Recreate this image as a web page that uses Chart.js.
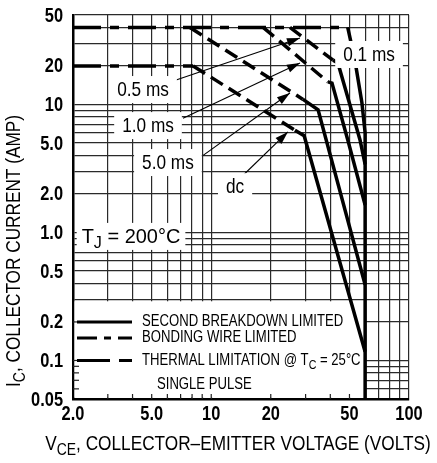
<!DOCTYPE html>
<html>
<head>
<meta charset="utf-8">
<script src="https://cdn.jsdelivr.net/npm/chart.js@4/dist/chart.umd.min.js"></script>
<style>
  html, body { margin: 0; padding: 0; background: #fff; }
  #wrap { width: 437px; height: 463px; }
</style>
</head>
<body>
<div id="wrap"><canvas id="chart" width="437" height="463"></canvas></div>
<script>
// tick values / labels
const xTicks = [2, 3, 4, 5, 6, 7, 8, 9, 10, 20, 30, 40, 50, 60, 70, 80, 90, 100];
const xTickLabels = { 2: '2.0', 5: '5.0', 10: '10', 20: '20', 50: '50', 100: '100' };
const yTicks = [0.05, 0.06, 0.07, 0.08, 0.09, 0.1, 0.2, 0.3, 0.4, 0.5, 0.6, 0.7, 0.8, 0.9,
  1, 2, 3, 4, 5, 6, 7, 8, 9, 10, 20, 30, 40, 50];
const yTickLabels = { 0.05: '0.05', 0.1: '0.1', 0.2: '0.2', 0.5: '0.5', 1: '1.0', 2: '2.0', 5: '5.0', 10: '10', 20: '20', 50: '50' };

// curves, [V_CE volts, I_C amps]
const bondingWire40 = [[2, 40], [49, 40]];
const bondingWire20 = [[2, 20], [8.1, 20]];
const thermal05 = [[25, 40], [41.3, 22.2]];
const thermal1 = [[18.3, 40], [38.9, 15]];
const thermal5 = [[7.8, 40], [29, 11]];
const thermalDc = [[8.1, 20], [26.5, 6.3]];
const breakdown01 = [[49, 40], [53.3, 22], [57.8, 10.3], [60, 6], [60, 0.05]];
const breakdown05 = [[41.3, 22.2], [43.7, 21.1], [56.5, 5.3], [60, 3.4]];
const breakdown1 = [[38.9, 15], [40.8, 14.7], [49, 5.3], [60, 1.64]];
const breakdown5 = [[29, 11], [34.7, 9.1], [60, 0.39]];
const breakdownDc = [[26.5, 6.3], [29.5, 5.7], [60, 0.117]];

const FONT = "'Liberation Sans', Arial, sans-serif";
const NARROW = 0.82; // no condensed face installed, squeeze horizontally
const DASH_DOT = [28, 9, 9, 9];
const DASH = [14, 7];

function line(points, dash) {
  return {
    data: points.map(([x, y]) => ({ x, y })),
    showLine: true, borderColor: '#000', borderWidth: 3.5, borderDash: dash || [],
    borderCapStyle: 'butt', pointRadius: 0, fill: false, tension: 0,
  };
}

// text with subscripts: parts = [[text, isSub], ...]; returns drawn width
function rich(ctx, parts, x, y, size, align, opts = {}) {
  const sx = opts.sx || NARROW;
  const fontOf = (sub) => `${opts.weight || 'normal'} ${sub ? Math.round(size * 0.8) : size}px ${FONT}`;
  const widths = parts.map(([t, sub]) => { ctx.font = fontOf(sub); return ctx.measureText(t).width; });
  const total = widths.reduce((s, w) => s + w, 0) * sx;
  let x0 = align === 'center' ? x - total / 2 : align === 'right' ? x - total : x;
  if (opts.measureOnly) return total;
  ctx.save();
  ctx.translate(x0, y);
  ctx.scale(sx, 1);
  ctx.textAlign = 'left';
  ctx.textBaseline = 'middle';
  let cx = 0;
  parts.forEach(([t, sub], i) => {
    ctx.font = fontOf(sub);
    ctx.fillText(t, cx, sub ? size * 0.32 : 0);
    cx += widths[i];
  });
  ctx.restore();
  return total;
}

function arrow(ctx, x1, y1, x2, y2) {
  ctx.save();
  ctx.setLineDash([]);
  ctx.lineWidth = 1.1;
  ctx.beginPath(); ctx.moveTo(x1, y1); ctx.lineTo(x2, y2); ctx.stroke();
  const a = Math.atan2(y2 - y1, x2 - x1), L = 13, W = 4.2;
  ctx.beginPath();
  ctx.moveTo(x2, y2);
  ctx.lineTo(x2 - L * Math.cos(a) + W * Math.sin(a), y2 - L * Math.sin(a) - W * Math.cos(a));
  ctx.lineTo(x2 - L * Math.cos(a) - W * Math.sin(a), y2 - L * Math.sin(a) + W * Math.cos(a));
  ctx.closePath(); ctx.fill();
  ctx.restore();
}

// callouts, positioned in data units (volts, amps)
const callouts = [
  { parts: [['0.5 ms']], at: [4.52, 13.2], from: [6.2, 15.0], to: [28.1, 33] },
  { parts: [['1.0 ms']], at: [4.79, 6.9], from: [7.2, 7.8], to: [28.1, 21.1] },
  { parts: [['5.0 ms']], at: [6.04, 3.55], from: [9.1, 4.0], to: [25, 12.3] },
  { parts: [['dc']], at: [13.2, 2.3], from: [14.5, 2.8], to: [24.4, 6.1] },
  { parts: [['0.1 ms']], at: [62.8, 24.8] },
  { parts: [['T'], ['J', true], [' = 200°C']], at: [3.93, 0.94], sx: 0.95, pad: 5 },
];

const overlay = {
  id: 'overlay',
  beforeDatasetsDraw(chart) {
    const { ctx, chartArea: ca, scales: { x, y } } = chart;
    ctx.save();
    // legend box (covers the grid)
    const bx = ca.left + 1.5, by = y.getPixelForValue(0.29), bw = x.getPixelForValue(60) - bx, bh = ca.bottom - 1.5 - by;
    ctx.fillStyle = '#fff';
    ctx.fillRect(bx, by, bw, bh);
    ctx.strokeStyle = '#222'; ctx.lineWidth = 1.2;
    for (const v of xTicks) {
      const px = x.getPixelForValue(v);
      if (px > bx + 2 && px < bx + bw) { ctx.beginPath(); ctx.moveTo(px, ca.bottom); ctx.lineTo(px, ca.bottom - 5); ctx.stroke(); }
    }
    for (const v of yTicks) {
      const py = y.getPixelForValue(v);
      if (py > by && py < ca.bottom - 2) { ctx.beginPath(); ctx.moveTo(ca.left, py); ctx.lineTo(ca.left + 6, py); ctx.stroke(); }
    }
    // legend rows
    ctx.fillStyle = '#000'; ctx.strokeStyle = '#000'; ctx.lineWidth = 3;
    const rows = [
      { v: 0.2, dash: [], parts: [['SECOND BREAKDOWN LIMITED']] },
      { v: 0.15, dash: [20, 7, 7, 7], parts: [['BONDING WIRE LIMITED']] },
      { v: 0.1, dash: [33, 9], parts: [['THERMAL LIMITATION @ T'], ['C', true], [' = 25°C']] },
    ];
    for (const r of rows) {
      const py = y.getPixelForValue(r.v);
      ctx.setLineDash(r.dash);
      ctx.beginPath(); ctx.moveTo(ca.left + 4, py); ctx.lineTo(ca.left + 59, py); ctx.stroke();
      rich(ctx, r.parts, ca.left + 69, py, 16, 'left');
    }
    ctx.setLineDash([]);
    rich(ctx, [['SINGLE PULSE']], ca.left + 84, y.getPixelForValue(0.065), 16, 'left');
    ctx.restore();
  },
  afterDatasetsDraw(chart) {
    const { ctx, scales: { x, y } } = chart;
    ctx.save();
    ctx.fillStyle = '#000'; ctx.strokeStyle = '#000';
    for (const c of callouts) {
      if (c.to) arrow(ctx, x.getPixelForValue(c.from[0]), y.getPixelForValue(c.from[1]), x.getPixelForValue(c.to[0]), y.getPixelForValue(c.to[1]));
    }
    for (const c of callouts) {
      const cx = x.getPixelForValue(c.at[0]), cy = y.getPixelForValue(c.at[1]);
      const w = rich(ctx, c.parts, cx, cy, 21, 'center', { sx: c.sx, measureOnly: true });
      const pad = c.pad || 8;
      ctx.fillStyle = '#fff';
      ctx.fillRect(cx - w / 2 - pad, cy - 13, w + pad * 2, 27);
      ctx.fillStyle = '#000';
      rich(ctx, c.parts, cx, cy + 1, 21, 'center', { sx: c.sx });
    }
    ctx.restore();
  },
  afterDraw(chart) {
    const { ctx, chartArea: ca, scales: { x, y } } = chart;
    ctx.save();
    ctx.fillStyle = '#000';
    // tick labels
    for (const v of xTicks) {
      if (xTickLabels[v]) rich(ctx, [[xTickLabels[v]]], x.getPixelForValue(v), ca.bottom + 15, 20, 'center', { weight: 'bold' });
    }
    for (const v of yTicks) {
      if (yTickLabels[v]) rich(ctx, [[yTickLabels[v]]], ca.left - 10, y.getPixelForValue(v) + 1, 20, 'right', { weight: 'bold' });
    }
    // axis titles
    rich(ctx, [['V'], ['CE', true], [', COLLECTOR\u2013EMITTER VOLTAGE (VOLTS)']], 238, 444, 21, 'center');
    ctx.translate(14, 251);
    ctx.rotate(-Math.PI / 2);
    rich(ctx, [['I'], ['C', true], [', COLLECTOR CURRENT (AMP)']], 0, 0, 21, 'center');
    ctx.restore();
  },
};

new Chart(document.getElementById('chart'), {
  type: 'scatter',
  data: {
    datasets: [
      line(bondingWire40, DASH_DOT),
      line(bondingWire20, DASH_DOT),
      line(thermal05, DASH),
      line(thermal1, DASH),
      line(thermal5, DASH),
      line(thermalDc, DASH),
      line(breakdown01),
      line(breakdown05),
      line(breakdown1),
      line(breakdown5),
      line(breakdownDc),
    ],
  },
  options: {
    responsive: false,
    animation: false,
    layout: { padding: { top: 15, right: 28, left: 0, bottom: 0 } },
    plugins: { legend: { display: false }, tooltip: { enabled: false } },
    scales: {
      x: {
        type: 'logarithmic', min: 2, max: 100,
        afterBuildTicks: (axis) => { axis.ticks = xTicks.map((v) => ({ value: v })); },
        afterFit: (axis) => { axis.height = 64; },
        ticks: { display: false, autoSkip: false, maxRotation: 0 },
        grid: { color: '#2a2a2a', lineWidth: 1.2, drawTicks: false },
        border: { color: '#000', width: 2.5 },
      },
      y: {
        type: 'logarithmic', min: 0.05, max: 50,
        afterBuildTicks: (axis) => { axis.ticks = yTicks.map((v) => ({ value: v })); },
        afterFit: (axis) => { axis.width = 73; },
        ticks: { display: false, autoSkip: false },
        grid: { color: '#2a2a2a', lineWidth: 1.2, drawTicks: false },
        border: { color: '#000', width: 2.5 },
      },
    },
  },
  plugins: [overlay],
});
</script>
</body>
</html>
